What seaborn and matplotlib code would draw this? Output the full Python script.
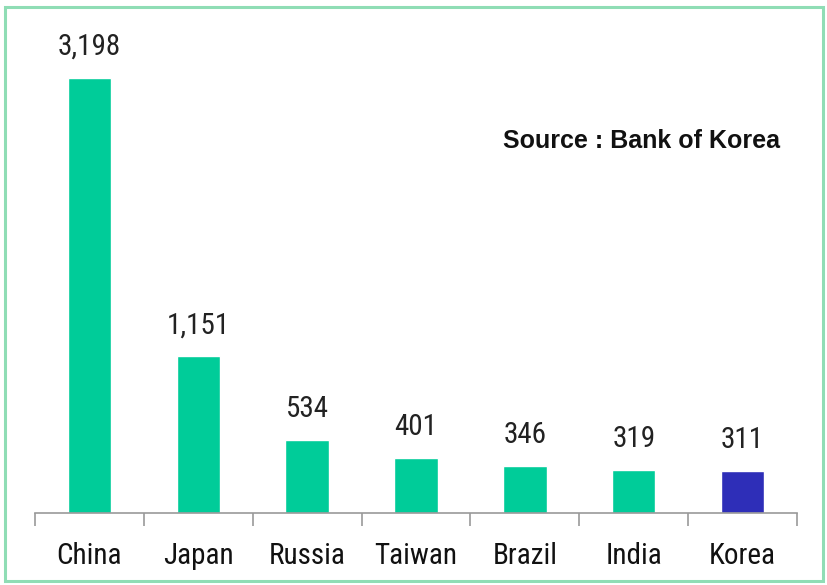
import matplotlib
matplotlib.use("Agg")
import matplotlib.pyplot as plt
import seaborn as sns
import pandas as pd
import numpy as np
from matplotlib.patches import Rectangle
from matplotlib import font_manager

countries = ["China", "Japan", "Russia", "Taiwan", "Brazil", "India", "Korea"]
reserves = [3198, 1151, 534, 401, 346, 319, 311]
bar_colors = ["#00CC99", "#00CC99", "#00CC99", "#00CC99", "#00CC99", "#00CC99", "#2E2EB8"]

df = pd.DataFrame({"country": countries, "value": reserves})

sns.set_style("white")
names = {f.name for f in font_manager.fontManager.ttflist}
narrow = "DejaVu Sans"
for cand in ["Liberation Sans Narrow", "Roboto Condensed", "DejaVu Sans Condensed"]:
    if cand in names:
        narrow = cand
        break
plt.rcParams["font.family"] = [narrow, "DejaVu Sans"]
plt.rcParams["font.stretch"] = "condensed"

fig = plt.figure(figsize=(8.27, 5.85), dpi=100)
ax = fig.add_axes([35 / 827, 1 - 513 / 585, (797 - 35) / 827, (513 - 20) / 585])

sns.barplot(data=df, x="country", y="value", hue="country", palette=bar_colors,
            legend=False, width=0.4, ax=ax, saturation=1)

ax.set_xlim(-0.5, len(countries) - 0.5)
ax.set_ylim(0, 493 / 0.136)
ax.set_xlabel("")
ax.set_ylabel("")
ax.set_yticks([])

for side in ["top", "right", "left"]:
    ax.spines[side].set_visible(False)
ax.spines["bottom"].set_color("#999999")
ax.spines["bottom"].set_linewidth(1.2)

ax.set_xticks(range(len(countries)))
ax.set_xticklabels(countries, fontsize=21, color="#111111")
ax.tick_params(axis="x", which="major", length=0, pad=21)
ax.set_xticks(np.arange(-0.5, len(countries), 1.0), minor=True)
ax.tick_params(axis="x", which="minor", bottom=True, length=9, width=1.2, color="#999999")

for i, v in enumerate(reserves):
    ax.text(i, v + 125, f"{v:,}", ha="center", va="bottom", fontsize=21, color="#222222")

ax.text(0.978, 0.755, "Source : Bank of Korea", transform=ax.transAxes, ha="right", va="center",
        fontsize=18, fontweight="bold", fontstretch="normal",
        family=["Liberation Sans", "DejaVu Sans"], color="#111111")

fig.patches.append(Rectangle((5 / 827, 4 / 585), 818 / 827, 574 / 585, transform=fig.transFigure,
                             fill=False, edgecolor="#8FDDB5", linewidth=2.2))

fig.savefig("out.png", dpi=100)
